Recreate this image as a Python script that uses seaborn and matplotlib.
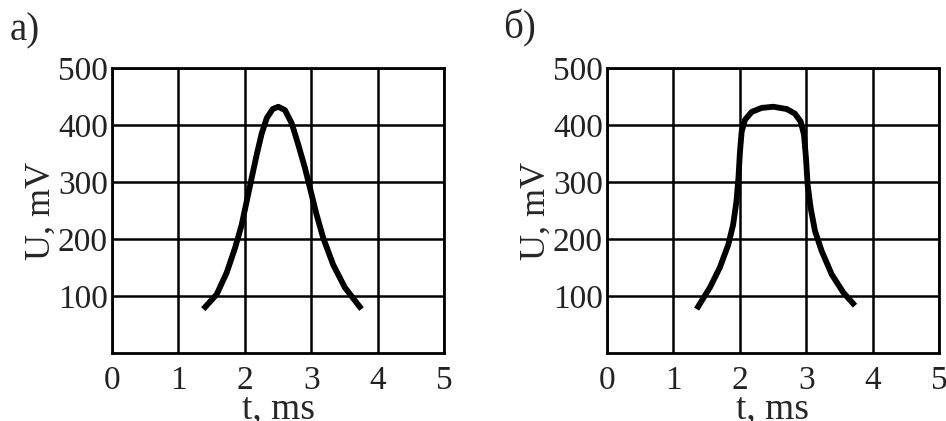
"""
Two voltage pulses U(t): a) bell-shaped, b) flat-topped.
"""

import pandas as pd
import seaborn as sns
import matplotlib.pyplot as plt

# pulse a)
a_t = [1.375, 1.577, 1.727, 1.852, 1.953, 2.028, 2.103, 2.179, 2.254, 2.33,
       2.42, 2.505, 2.605, 2.706, 2.806, 2.907, 2.982, 3.08, 3.18, 3.33,
       3.506, 3.757]
a_u = [77, 103, 141, 184, 225, 266, 307, 348, 385, 412,
       428, 432, 426, 403, 365, 324, 289, 243, 202, 155,
       115, 77]

# pulse b)
b_t = [1.35, 1.551, 1.70, 1.827, 1.90, 1.95, 1.98, 2.003, 2.028, 2.078,
       2.18, 2.33, 2.505, 2.706, 2.83, 2.917, 2.967, 2.997, 3.022, 3.068,
       3.133, 3.233, 3.384, 3.56, 3.735]
b_u = [77, 115, 150, 190, 225, 266, 307, 353, 388, 409,
       423, 430, 432, 428, 420, 406, 383, 342, 295, 254,
       214, 179, 138, 106, 83]

x_ticks = [0, 1, 2, 3, 4, 5]
y_ticks = [100, 200, 300, 400, 500]
panel_labels = ["а)", "б)"]

sns.set_style("white")
plt.rcParams["font.family"] = ["Liberation Serif", "DejaVu Serif"]

fig = plt.figure(figsize=(9.46, 4.21), dpi=100)
positions = [[0.1184, 0.1615, 0.351, 0.677], [0.6416, 0.1615, 0.351, 0.677]]
curves = [(a_t, a_u), (b_t, b_u)]
label_xy = [(0.010, 0.905), (0.532, 0.908)]

for pos, (t, u), lab, lxy in zip(positions, curves, panel_labels, label_xy):
    ax = fig.add_axes(pos)
    df = pd.DataFrame({"t": t, "U": u})
    sns.lineplot(data=df, x="t", y="U", sort=False, color="black",
                 linewidth=4.2, ax=ax, solid_joinstyle="round",
                 solid_capstyle="butt")
    ax.set_xlim(0, 5)
    ax.set_ylim(0, 500)
    ax.set_xticks(x_ticks)
    ax.set_yticks(y_ticks)
    ax.grid(True, color="black", linewidth=1.8)
    ax.set_axisbelow(True)
    for s in ax.spines.values():
        s.set_color("black")
        s.set_linewidth(2)
    ax.tick_params(length=0, labelsize=24, labelcolor="#222222")
    ax.tick_params(axis="x", pad=9)
    ax.tick_params(axis="y", pad=3)
    ax.set_xlabel("t, ms", fontsize=27, labelpad=-3)
    ax.set_ylabel("U, mV", fontsize=26, labelpad=0)
    fig.text(lxy[0], lxy[1], lab, fontsize=28)

plt.savefig("out.png", dpi=100)
